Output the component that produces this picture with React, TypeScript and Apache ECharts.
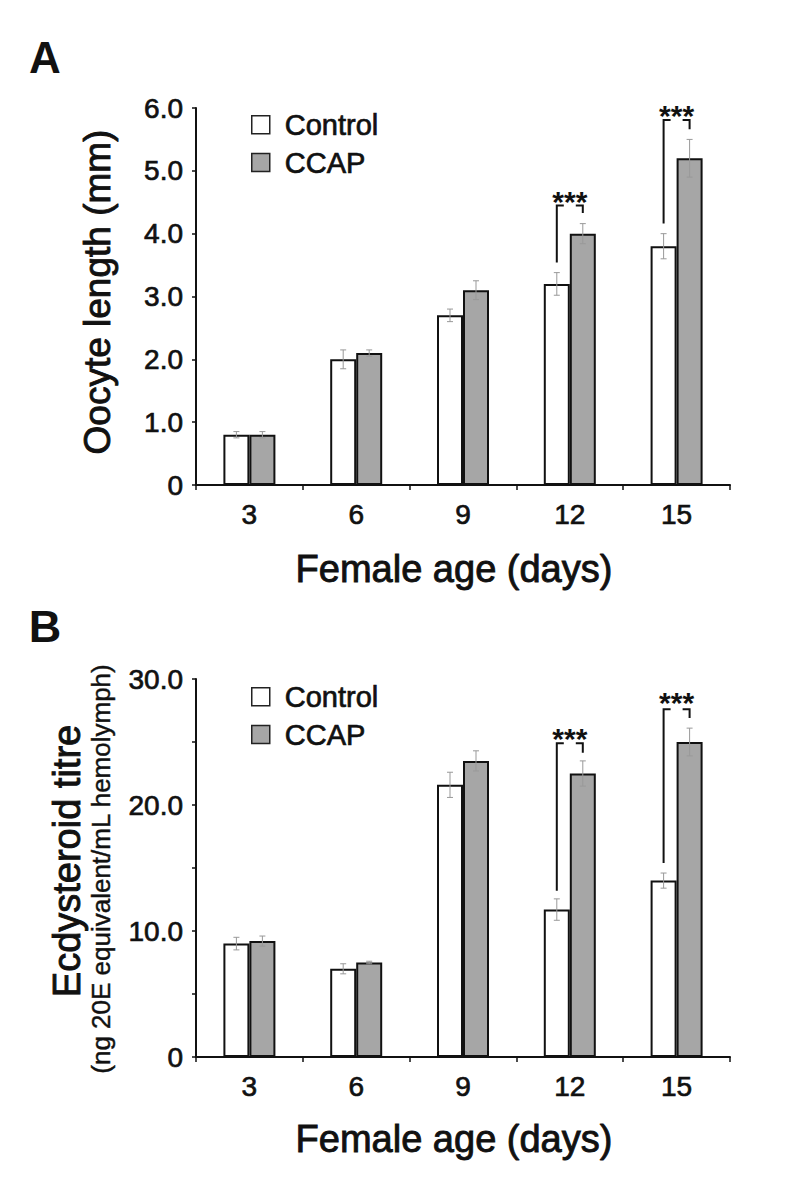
import React, { useEffect, useRef } from 'react';
import * as echarts from 'echarts';

// ---------- data ----------
const days = ['3', '6', '9', '12', '15'];

const oocyteControl = [0.8, 2.0, 2.7, 3.2, 3.8];
const oocyteControlErr = [0.05, 0.15, 0.1, 0.18, 0.2];
const oocyteCcap = [0.8, 2.1, 3.1, 4.0, 5.2];
const oocyteCcapErr = [0.05, 0.05, 0.15, 0.16, 0.3];

const ecdControl = [9.0, 7.0, 21.6, 11.7, 14.0];
const ecdControlErr = [0.5, 0.4, 1.0, 0.85, 0.6];
const ecdCcap = [9.2, 7.5, 23.5, 22.5, 25.0];
const ecdCcapErr = [0.4, 0.1, 0.8, 1.0, 1.1];

// significance brackets: [categoryIndex, leftBottom, top, rightBottom, starsY]
const oocyteSig = [
  [3, 3.54, 4.45, 4.33, 4.59],
  [4, 4.16, 5.81, 5.66, 5.96],
];
const ecdSig = [
  [3, 13.2, 24.9, 24.15, 25.7],
  [4, 15.4, 27.6, 26.9, 28.55],
];
const sigText = '***';

const oocyteTickLabels = ['0', '1.0', '2.0', '3.0', '4.0', '5.0', '6.0'];
const ecdTickLabels = ['0', '', '10.0', '', '20.0', '', '30.0'];

const seriesNames = ['Control', 'CCAP'];

// ---------- styles ----------
const FONT = 'Arial, "Liberation Sans", Helvetica, sans-serif';
const BAR_W = 26;
const CCAP_FILL = '#a6a6a6';
const ERR_COLOR = '#999999';
const INK = '#111';
const HEAVY = 0.7; // slight text stroke to mimic the heavier reference type

function errorBars(values: number[], errs: number[], offset: number, idx: number) {
  return {
    type: 'custom',
    xAxisIndex: idx,
    yAxisIndex: idx,
    z: 5,
    silent: true,
    data: values.map((v, i) => [i, v, errs[i]]),
    renderItem: (params: any, api: any) => {
      const i = api.value(0);
      const v = api.value(1);
      const e = api.value(2);
      const hi = api.coord([i, v + e]);
      const lo = api.coord([i, v - e]);
      const x = hi[0] + offset;
      const cap = 3;
      const st = { stroke: ERR_COLOR, lineWidth: 1 };
      return {
        type: 'group',
        children: [
          { type: 'line', shape: { x1: x, y1: hi[1], x2: x, y2: lo[1] }, style: st },
          { type: 'line', shape: { x1: x - cap, y1: hi[1], x2: x + cap, y2: hi[1] }, style: st },
          { type: 'line', shape: { x1: x - cap, y1: lo[1], x2: x + cap, y2: lo[1] }, style: st },
        ],
      };
    },
  };
}

function brackets(sig: number[][], idx: number) {
  return {
    type: 'custom',
    xAxisIndex: idx,
    yAxisIndex: idx,
    z: 6,
    silent: true,
    data: sig,
    renderItem: (params: any, api: any) => {
      const i = api.value(0);
      const lb = api.coord([i, api.value(1)]);
      const tp = api.coord([i, api.value(2)]);
      const rb = api.coord([i, api.value(3)]);
      const sy = api.coord([i, api.value(4)]);
      const c = lb[0];
      const xl = c - BAR_W / 2;
      const xr = c + BAR_W / 2;
      const ls = { stroke: INK, lineWidth: 2, fill: 'none' };
      return {
        type: 'group',
        children: [
          { type: 'polyline', shape: { points: [[xl, lb[1]], [xl, tp[1]], [xl + 7, tp[1]]] }, style: ls },
          { type: 'polyline', shape: { points: [[xr - 7, tp[1]], [xr, tp[1]], [xr, rb[1]]] }, style: ls },
          {
            type: 'text',
            x: c,
            y: sy[1] + 5,
            style: {
              text: sigText,
              fill: INK,
              font: `bold 30px ${FONT}`,
              align: 'center',
              verticalAlign: 'middle',
            },
          },
        ],
      };
    },
  };
}

function barSeries(name: string, data: number[], fill: string, idx: number) {
  return {
    type: 'bar',
    name,
    xAxisIndex: idx,
    yAxisIndex: idx,
    data,
    barWidth: BAR_W,
    barGap: '0%',
    z: 2,
    silent: true,
    itemStyle: { color: fill, borderColor: INK, borderWidth: 2 },
  };
}

const axisLineStyle = { lineStyle: { color: INK, width: 2 } };

function xAxis(idx: number) {
  return {
    type: 'category',
    gridIndex: idx,
    data: days,
    axisLine: { show: true, ...axisLineStyle },
    axisTick: { show: true, length: 5, lineStyle: { color: INK, width: 1.5 } },
    axisLabel: {
      color: INK, fontSize: 28, fontFamily: FONT, margin: 15,
      textBorderColor: INK, textBorderWidth: HEAVY,
    },
    splitLine: { show: false },
  };
}

function yAxis(idx: number, max: number, interval: number, labels: string[]) {
  return {
    type: 'value',
    gridIndex: idx,
    min: 0,
    max,
    interval,
    axisLine: { show: true, ...axisLineStyle },
    axisTick: { show: true, length: 4, lineStyle: { color: INK, width: 1.5 } },
    axisLabel: {
      color: INK,
      fontSize: 28,
      fontFamily: FONT,
      margin: 13,
      textBorderColor: INK,
      textBorderWidth: HEAVY,
      formatter: (v: number) => labels[Math.round(v / interval)] ?? '',
    },
    splitLine: { show: false },
  };
}

function legend(top: number) {
  return {
    orient: 'vertical',
    left: 246,
    top,
    itemWidth: 18,
    itemHeight: 18,
    itemGap: 8,
    icon: 'rect',
    selectedMode: false,
    data: seriesNames,
    itemStyle: { borderColor: '#222', borderWidth: 1.5 },
    textStyle: {
      color: INK, fontSize: 29, fontFamily: FONT, lineHeight: 29, padding: [0, 0, 0, 10],
      textBorderColor: INK, textBorderWidth: HEAVY,
    },
  };
}

export default function App() {
  const ref = useRef<HTMLDivElement>(null);

  useEffect(() => {
    if (!ref.current) return;
    const chart = echarts.init(ref.current, undefined, { renderer: 'svg' });

    const titleStyle = {
      fill: INK, stroke: INK, lineWidth: HEAVY + 0.2,
      font: `37px ${FONT}`, align: 'center', verticalAlign: 'middle',
    };

    chart.setOption({
      animation: false,
      backgroundColor: '#fff',
      grid: [
        { left: 196, top: 108, width: 534, height: 377 },
        { left: 196, top: 679, width: 534, height: 378 },
      ],
      xAxis: [xAxis(0), xAxis(1)],
      yAxis: [
        yAxis(0, 6, 1, oocyteTickLabels),
        yAxis(1, 30, 5, ecdTickLabels),
      ],
      legend: [legend(105), legend(677)],
      series: [
        barSeries('Control', oocyteControl, '#ffffff', 0),
        barSeries('CCAP', oocyteCcap, CCAP_FILL, 0),
        barSeries('Control', ecdControl, '#ffffff', 1),
        barSeries('CCAP', ecdCcap, CCAP_FILL, 1),
        errorBars(oocyteControl, oocyteControlErr, -BAR_W / 2, 0),
        errorBars(oocyteCcap, oocyteCcapErr, BAR_W / 2, 0),
        errorBars(ecdControl, ecdControlErr, -BAR_W / 2, 1),
        errorBars(ecdCcap, ecdCcapErr, BAR_W / 2, 1),
        brackets(oocyteSig, 0),
        brackets(ecdSig, 1),
      ],
      graphic: [
        { type: 'text', x: 45, y: 57, style: { text: 'A', fill: INK, font: `bold 44px ${FONT}`, align: 'center', verticalAlign: 'middle' } },
        { type: 'text', x: 45, y: 626, style: { text: 'B', fill: INK, font: `bold 45px ${FONT}`, align: 'center', verticalAlign: 'middle' } },
        { type: 'text', x: 97, y: 292, rotation: Math.PI / 2, style: { ...titleStyle, text: 'Oocyte length (mm)' } },
        { type: 'text', x: 67, y: 861, rotation: Math.PI / 2, style: { ...titleStyle, font: `38px ${FONT}`, text: 'Ecdysteroid titre' } },
        { type: 'text', x: 101, y: 869, rotation: Math.PI / 2, style: { ...titleStyle, lineWidth: HEAVY * 0.6, font: `26px ${FONT}`, text: '(ng 20E equivalent/mL hemolymph)' } },
        { type: 'text', x: 454, y: 569, style: { ...titleStyle, font: `38px ${FONT}`, text: 'Female age (days)' } },
        { type: 'text', x: 454, y: 1139, style: { ...titleStyle, font: `38px ${FONT}`, text: 'Female age (days)' } },
      ],
    });

    return () => chart.dispose();
  }, []);

  return (
    <div
      ref={ref}
      style={{ position: 'absolute', left: 0, top: 0, width: 788, height: 1178, background: '#fff' }}
    />
  );
}
